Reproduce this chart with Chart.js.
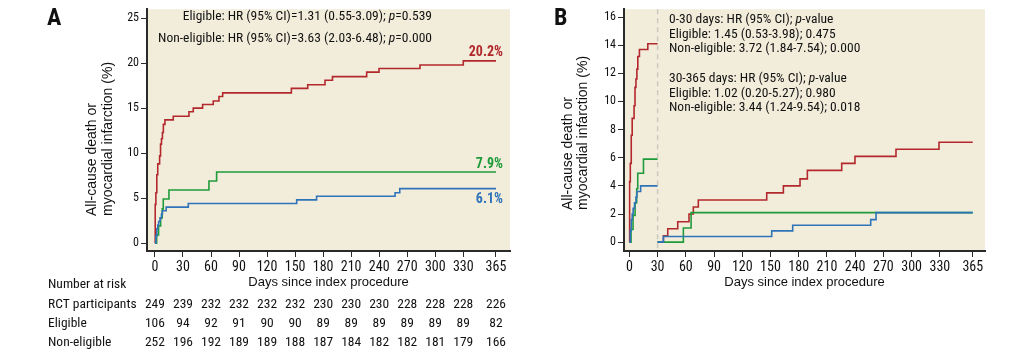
<!DOCTYPE html>
<html>
<head>
<meta charset="utf-8">
<script src="https://cdn.jsdelivr.net/npm/chart.js@4.4.1/dist/chart.umd.min.js"></script>
<style>
  body { margin: 0; background: #fff; }
  canvas { position: absolute; top: 0; }
</style>
</head>
<body>
<canvas id="chartA" width="516" height="354" style="left:0"></canvas>
<canvas id="chartB" width="517" height="354" style="left:516px"></canvas>
<script>
// tick labels
const xTicks = [0, 30, 60, 90, 120, 150, 180, 210, 240, 270, 300, 330, 365];
const yTicksA = [0, 5, 10, 15, 20, 25];
const yTicksB = [0, 2, 4, 6, 8, 10, 12, 14, 16];

// panel A: cumulative incidence (%) by day
const rctDays = [0, 1, 2, 3, 4, 5.5, 7, 8, 12, 35.7, 151.7, 173, 257, 262, 365];
const rctPct  = [0, 0.8, 1.6, 2.0, 2.4, 2.8, 3.2, 3.6, 4.0, 4.4, 4.8, 5.2, 5.6, 6.05, 6.05];
const eligDays = [0, 1.8, 3.9, 6.1, 7.8, 8.9, 15, 57.8, 66, 365];
const eligPct  = [0, 0.9, 1.9, 2.8, 3.8, 4.9, 5.9, 6.9, 7.9, 7.9];
const nonEligDays = [0, 0.3, 1, 2, 3, 5, 6, 7, 8, 9, 10.7, 19.6, 36.4, 41, 51, 62.4, 68.5, 72.5, 146, 163.5, 182, 190, 226.6, 239.8, 283.7, 330, 365];
const nonEligPct  = [0, 4.3, 5.6, 7.6, 8.8, 9.7, 11.0, 11.6, 12.3, 13.2, 13.7, 14.1, 14.6, 15.0, 15.4, 15.8, 16.3, 16.7, 17.2, 17.6, 18.1, 18.5, 19.0, 19.4, 19.8, 20.25, 20.25];

// panel B: landmark analysis from day 30
const rctLmDays = [30, 36.2, 151.3, 173.6, 256.5, 262.2, 365];
const rctLmPct  = [0, 0.4, 0.8, 1.2, 1.6, 2.1, 2.1];
const eligLmDays = [30, 57.4, 65.6, 365];
const eligLmPct  = [0, 1.0, 2.1, 2.1];
const nonEligLmDays = [30, 36.2, 40.8, 51.4, 63.4, 68, 73.3, 146, 163.7, 181.4, 189.2, 225.7, 239.8, 283.4, 329.1, 365];
const nonEligLmPct  = [0, 0.45, 0.95, 1.45, 2.0, 2.5, 3.0, 3.5, 4.0, 4.5, 5.1, 5.6, 6.1, 6.6, 7.1, 7.1];

// number at risk
const riskGroups = ['RCT participants', 'Eligible', 'Non-eligible'];
const riskRct = [249, 239, 232, 232, 232, 232, 230, 230, 230, 228, 228, 228, 226];
const riskElig = [106, 94, 92, 91, 90, 90, 89, 89, 89, 89, 89, 89, 82];
const riskNonElig = [252, 196, 192, 189, 189, 188, 187, 184, 182, 182, 181, 179, 166];

const RED = '#b3282d', GREEN = '#1f9b3b', BLUE = '#2f73b9';
const BG = '#f2eddb', AXIS = '#2a2a2a', INK = '#111';
const COND = 'Roboto, "DejaVu Sans Condensed", sans-serif';   // used with the "condensed" stretch
const REGULAR = '"Liberation Sans", Arial, sans-serif';
const cf = (size, bold, italic) => (italic ? 'italic ' : '') + (bold ? 'bold ' : '') + 'condensed ' + size + 'px ' + COND;

Chart.defaults.color = INK;

const pts = (days, pct) => days.map((d, i) => ({ x: d, y: pct[i] }));
function upTo(days, pct, end) {
  const out = [];
  days.forEach((d, i) => { if (d <= end) out.push({ x: d, y: pct[i] }); });
  out.push({ x: end, y: out[out.length - 1].y });
  return out;
}

function line(data, color) {
  return { data, borderColor: color, borderWidth: 1.6, pointRadius: 0, stepped: true, fill: false };
}

// text with italic pieces
function drawRich(ctx, parts, x, y, size, align) {
  let total = 0;
  parts.forEach(([t, it]) => { ctx.font = cf(size, false, it); total += ctx.measureText(t).width; });
  let cx = align === 'right' ? x - total : x;
  ctx.textAlign = 'left';
  ctx.textBaseline = 'middle';
  parts.forEach(([t, it]) => {
    ctx.font = cf(size, false, it);
    ctx.fillText(t, cx, y);
    cx += ctx.measureText(t).width;
  });
}

function yTitle(ctx, x1, x2, yStart) {
  ctx.save();
  ctx.fillStyle = INK;
  ctx.font = '14px ' + REGULAR;
  ctx.textAlign = 'left';
  ctx.textBaseline = 'middle';
  ctx.translate(x1, yStart); ctx.rotate(-Math.PI / 2);
  ctx.fillText('All-cause death or', 0, 0);
  ctx.fillText('myocardial infarction (%)', 0, x2 - x1);
  ctx.restore();
}

const plotBg = {
  id: 'plotBg',
  beforeDraw(chart) {
    const { ctx, chartArea: a } = chart;
    ctx.save();
    ctx.fillStyle = BG;
    ctx.fillRect(a.left, a.top, a.width, a.height);
    ctx.restore();
  }
};

function scales(xMin, xMax, yMin, yMax, yTicks, yWidth) {
  return {
    x: {
      type: 'linear', min: xMin, max: xMax,
      afterBuildTicks: s => { s.ticks = xTicks.map(v => ({ value: v })); },
      afterFit: s => { s.height = 40; },
      grid: { drawOnChartArea: false, drawTicks: true, tickLength: 6, tickWidth: 1, tickColor: AXIS },
      border: { display: true, width: 2, color: AXIS },
      ticks: { autoSkip: false, maxRotation: 0, padding: 2, font: { family: COND, weight: 'condensed', size: 14 }, color: INK },
      title: { display: true, text: 'Days since index procedure', font: { family: REGULAR, size: 13 }, color: INK, padding: { top: 0, bottom: 1 } }
    },
    y: {
      type: 'linear', min: yMin, max: yMax,
      afterBuildTicks: s => { s.ticks = yTicks.map(v => ({ value: v })); },
      afterFit: s => { s.width = yWidth; },
      grid: { drawOnChartArea: false, drawTicks: true, tickLength: 6, tickWidth: 1, tickColor: AXIS },
      border: { display: true, width: 2, color: AXIS },
      ticks: { padding: 2, font: { family: COND, weight: 'condensed', size: 12 }, color: INK }
    }
  };
}

const commonOpts = {
  responsive: false,
  devicePixelRatio: 1,
  animation: false,
  plugins: { legend: { display: false }, tooltip: { enabled: false } }
};

const panelA = {
  id: 'panelA',
  afterDraw(chart) {
    const { ctx } = chart;
    const xs = chart.scales.x, ys = chart.scales.y;
    yTitle(ctx, 92, 108, 216);
    ctx.save();
    ctx.fillStyle = INK;
    ctx.font = cf(24, true);
    ctx.textAlign = 'left'; ctx.textBaseline = 'alphabetic';
    ctx.fillText('A', 47, 25);

    drawRich(ctx, [['Eligible: HR (95% CI)=1.31 (0.55-3.09); ', false], ['p', true], ['=0.539', false]], 432, 17, 13.5, 'right');
    drawRich(ctx, [['Non-eligible: HR (95% CI)=3.63 (2.03-6.48); ', false], ['p', true], ['=0.000', false]], 432, 39, 13.5, 'right');

    ctx.font = cf(14, true);
    ctx.textAlign = 'right'; ctx.textBaseline = 'middle';
    ctx.fillStyle = RED;   ctx.fillText('20.2%', 503, ys.getPixelForValue(20.25) - 8);
    ctx.fillStyle = GREEN; ctx.fillText('7.9%', 503, ys.getPixelForValue(7.9) - 8);
    ctx.fillStyle = BLUE;  ctx.fillText('6.1%', 503, ys.getPixelForValue(6.05) + 11);

    // number at risk table
    ctx.fillStyle = INK;
    ctx.font = cf(13.5);
    ctx.textAlign = 'left';
    ctx.fillText('Number at risk', 48, 285);
    const rows = [riskRct, riskElig, riskNonElig];
    const rowY = [305, 324, 343];
    rows.forEach((vals, r) => {
      ctx.textAlign = 'left';
      ctx.fillText(riskGroups[r], 48, rowY[r]);
      ctx.textAlign = 'center';
      vals.forEach((v, i) => ctx.fillText(String(v), xs.getPixelForValue(xTicks[i]), rowY[r]));
    });
    ctx.restore();
  }
};

const panelB = {
  id: 'panelB',
  beforeDatasetsDraw(chart) {
    const { ctx, chartArea: a } = chart;
    const x30 = chart.scales.x.getPixelForValue(30);
    ctx.save();
    ctx.strokeStyle = '#cbc9bf';
    ctx.lineWidth = 1.5;
    ctx.setLineDash([5, 4]);
    ctx.beginPath();
    ctx.moveTo(x30, a.top);
    ctx.lineTo(x30, a.bottom);
    ctx.stroke();
    ctx.restore();
  },
  afterDraw(chart) {
    const { ctx } = chart;
    yTitle(ctx, 52, 67, 210);
    ctx.save();
    ctx.fillStyle = INK;
    ctx.font = cf(24, true);
    ctx.textAlign = 'left'; ctx.textBaseline = 'alphabetic';
    ctx.fillText('B', 38, 25);

    const x0 = 153;
    drawRich(ctx, [['0-30 days: HR (95% CI); ', false], ['p', true], ['-value', false]], x0, 20, 13.5, 'left');
    drawRich(ctx, [['Eligible: 1.45 (0.53-3.98); 0.475', false]], x0, 35, 13.5, 'left');
    drawRich(ctx, [['Non-eligible: 3.72 (1.84-7.54); 0.000', false]], x0, 49, 13.5, 'left');
    drawRich(ctx, [['30-365 days: HR (95% CI); ', false], ['p', true], ['-value', false]], x0, 79, 13.5, 'left');
    drawRich(ctx, [['Eligible: 1.02 (0.20-5.27); 0.980', false]], x0, 94, 13.5, 'left');
    drawRich(ctx, [['Non-eligible: 3.44 (1.24-9.54); 0.018', false]], x0, 108, 13.5, 'left');
    ctx.restore();
  }
};

new Chart(document.getElementById('chartA'), {
  type: 'line',
  data: {
    datasets: [
      line(pts(rctDays, rctPct), BLUE),
      line(pts(eligDays, eligPct), GREEN),
      line(pts(nonEligDays, nonEligPct), RED)
    ]
  },
  options: Object.assign({}, commonOpts, {
    layout: { padding: { left: 85, top: 6, right: 6, bottom: 63 } },
    scales: scales(-8.5, 380, -0.88, 26, yTicksA, 62)
  }),
  plugins: [plotBg, panelA]
});

new Chart(document.getElementById('chartB'), {
  type: 'line',
  data: {
    datasets: [
      line(upTo(rctDays, rctPct, 30), BLUE),
      line(upTo(eligDays, eligPct, 30), GREEN),
      line(upTo(nonEligDays, nonEligPct, 30), RED),
      line(pts(rctLmDays, rctLmPct), BLUE),
      line(pts(eligLmDays, eligLmPct), GREEN),
      line(pts(nonEligLmDays, nonEligLmPct), RED)
    ]
  },
  options: Object.assign({}, commonOpts, {
    layout: { padding: { left: 45, top: 6, right: 48, bottom: 63 } },
    scales: scales(-5.7, 378, -0.63, 16.56, yTicksB, 63)
  }),
  plugins: [plotBg, panelB]
});
</script>
</body>
</html>
